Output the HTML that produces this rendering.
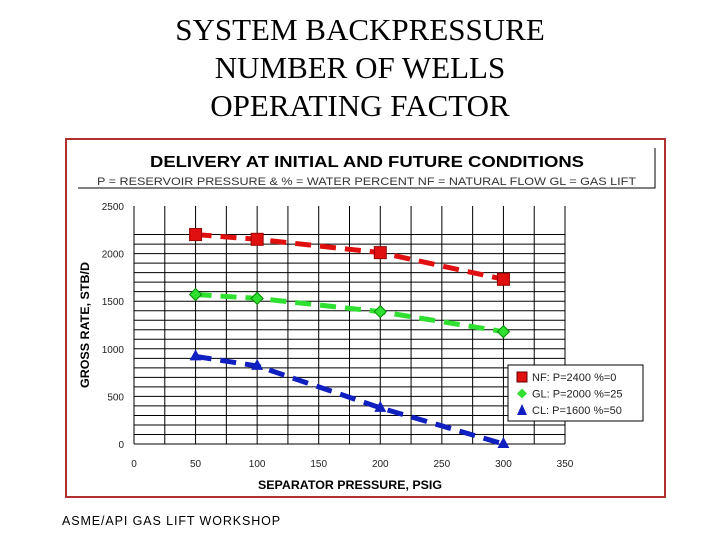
<!DOCTYPE html>
<html><head><meta charset="utf-8"><style>
body{margin:0;width:720px;height:540px;background:#fff;overflow:hidden;position:relative;font-family:"Liberation Sans",sans-serif}
.t{position:absolute;left:0;width:720px;text-align:center;font-family:"Liberation Serif",serif;font-size:31px;color:#000}
</style></head><body>
<div class="t" style="top:12px">SYSTEM BACKPRESSURE</div>
<div class="t" style="top:50px">NUMBER OF WELLS</div>
<div class="t" style="top:88px">OPERATING FACTOR</div>
<div style="position:absolute;left:62px;top:514px;font-size:12.5px;letter-spacing:0.9px">ASME/API GAS LIFT WORKSHOP</div>
<svg id="c" width="720" height="540" style="position:absolute;left:0;top:0"></svg>
<script>
const xTicks=[0,50,100,150,200,250,300,350];
const yTicks=[0,500,1000,1500,2000,2500];
const xs=[50,100,200,300];
const nf=[2200,2150,2010,1730];
const gl=[1570,1530,1390,1180];
const cl=[920,820,380,0];
const X=v=>134+v*(431/350), Y=v=>444-v*(238/2500);
const s=document.getElementById('c'),NS='http://www.w3.org/2000/svg';
function el(t,a,txt){const e=document.createElementNS(NS,t);for(const k in a)e.setAttribute(k,a[k]);if(txt!=null)e.textContent=txt;s.appendChild(e);return e;}
let e;
e=el('rect',{x:66,y:139,width:599,height:358,fill:'none',stroke:'#b03030','stroke-width':2});

e=el('polyline',{points:'78,188 655,188 655,148',fill:'none',stroke:'#000','stroke-width':1});

e=el('text',{x:150,y:167,'font-size':16,'font-weight':'bold',textLength:434,lengthAdjust:'spacingAndGlyphs'},'DELIVERY AT INITIAL AND FUTURE CONDITIONS');

e=el('text',{x:97,y:185,'font-size':11,fill:'#333',textLength:539,lengthAdjust:'spacingAndGlyphs'},'P = RESERVOIR PRESSURE  &  % = WATER PERCENT  NF = NATURAL FLOW  GL = GAS LIFT');

for(let v=0;v<=2200;v+=100){e=el('line',{x1:X(0),x2:X(350),y1:Y(v),y2:Y(v),stroke:'#000','stroke-width':1});
}
for(let v=0;v<=350;v+=25){e=el('line',{x1:X(v),x2:X(v),y1:Y(0),y2:Y(2500),stroke:'#000','stroke-width':1});
}
xTicks.forEach(v=>{e=el('text',{x:X(v),y:467,'text-anchor':'middle','font-size':10,fill:'#222'},v);
});
yTicks.forEach(v=>{e=el('text',{x:124,y:Y(v)+4,'text-anchor':'end','font-size':10,fill:'#222'},v);
});
e=el('text',{x:258,y:489,'font-size':11.5,'font-weight':'bold',textLength:184,lengthAdjust:'spacingAndGlyphs'},'SEPARATOR PRESSURE, PSIG');

e=el('text',{x:0,y:0,'font-size':11.5,'font-weight':'bold',textLength:126,lengthAdjust:'spacingAndGlyphs',transform:'translate(89,388) rotate(-90)'},'GROSS RATE, STB/D');

function series(vals,col,name,mk){
 e=el('polyline',{points:xs.map((x,i)=>X(x)+','+Y(vals[i])).join(' '),fill:'none',stroke:col,'stroke-width':5,'stroke-dasharray':'16,9'});
 
 xs.forEach((x,i)=>{const cx=X(x),cy=Y(vals[i]);
  if(mk==='sq')e=el('rect',{x:cx-6,y:cy-6,width:12,height:12,fill:col,stroke:'#900'});
  else if(mk==='di')e=el('polygon',{points:`${cx},${cy-6} ${cx+6},${cy} ${cx},${cy+6} ${cx-6},${cy}`,fill:col,stroke:'#080'});
  else e=el('polygon',{points:`${cx},${cy-7} ${cx+6},${cy+4} ${cx-6},${cy+4}`,fill:col});
  });
}
series(nf,'#e01010','nf-series','sq');
series(gl,'#30e030','gl-series','di');
series(cl,'#1020c0','cl-series','tr');
e=el('rect',{x:508,y:365,width:135,height:56,fill:'#fff',stroke:'#000'});

const lg=[['#e01010','NF: P=2400  %=0','sq'],['#30e030','GL: P=2000  %=25','di'],['#1020c0','CL: P=1600  %=50','tr']];
lg.forEach((l,i)=>{const cy=377+i*16.5,cx=522;
 if(l[2]==='sq')e=el('rect',{x:cx-5,y:cy-5,width:10,height:10,fill:l[0],stroke:'#600'});
 else if(l[2]==='di')e=el('polygon',{points:`${cx},${cy-5} ${cx+5},${cy} ${cx},${cy+5} ${cx-5},${cy}`,fill:l[0]});
 else e=el('polygon',{points:`${cx},${cy-6} ${cx+5},${cy+5} ${cx-5},${cy+5}`,fill:l[0]});
 
 e=el('text',{x:532,y:cy+4,'font-size':11,fill:'#222'},l[1]);
 });
</script>
</body></html>
